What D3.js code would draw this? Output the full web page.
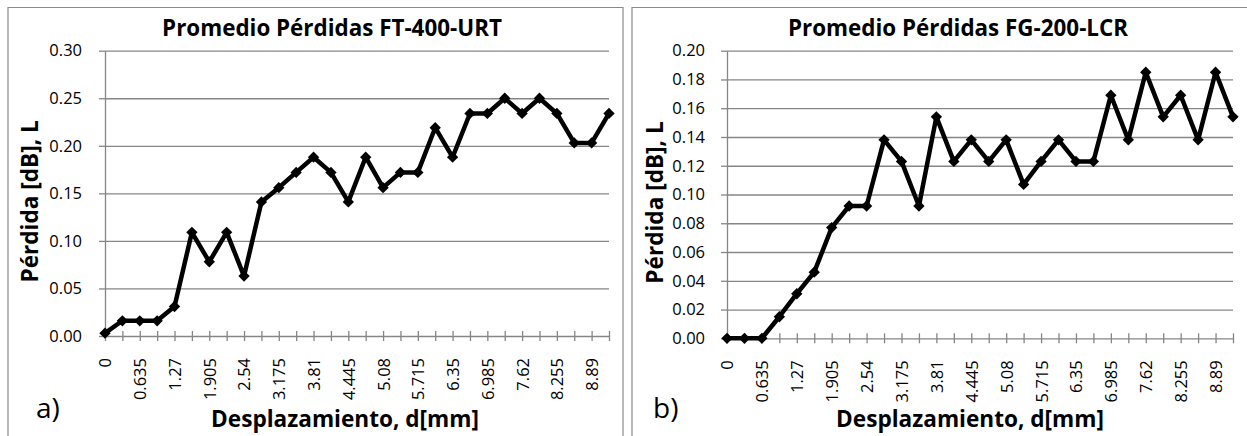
<!DOCTYPE html>
<html>
<head>
<meta charset="utf-8">
<script src="https://cdn.jsdelivr.net/npm/d3@7"></script>
<style>
	body { margin: 0; background: #fff; }
	text { font-family: "Open Sans", sans-serif; fill: #000; }
</style>
</head>
<body>
<script>
// displacement d [mm], one category per step of 0.3175
var displacement = [0, 0.3175, 0.635, 0.9525, 1.27, 1.5875, 1.905, 2.2225, 2.54, 2.8575,
	3.175, 3.4925, 3.81, 4.1275, 4.445, 4.7625, 5.08, 5.3975, 5.715, 6.0325,
	6.35, 6.6675, 6.985, 7.3025, 7.62, 7.9375, 8.255, 8.5725, 8.89, 9.2075];

// average loss [dB]
var lossFT400 = [0.003, 0.016, 0.016, 0.016, 0.031, 0.109, 0.078, 0.109, 0.063, 0.141,
	0.156, 0.172, 0.188, 0.172, 0.141, 0.188, 0.156, 0.172, 0.172, 0.219,
	0.188, 0.234, 0.234, 0.250, 0.234, 0.250, 0.234, 0.203, 0.203, 0.234];
var lossFG200 = [0, 0, 0, 0.015, 0.031, 0.046, 0.077, 0.092, 0.092, 0.138,
	0.123, 0.092, 0.154, 0.123, 0.138, 0.123, 0.138, 0.107, 0.123, 0.138,
	0.123, 0.123, 0.169, 0.138, 0.185, 0.154, 0.169, 0.138, 0.185, 0.154];

var ticksFT400 = [0, 0.05, 0.10, 0.15, 0.20, 0.25, 0.30];
var ticksFG200 = [0, 0.02, 0.04, 0.06, 0.08, 0.10, 0.12, 0.14, 0.16, 0.18, 0.20];

var gridColor = "#868686";

var svg = d3.select("body").append("svg")
	.attr("width", 1247)
	.attr("height", 436);

var drawPanel = function(panel) {
	var g = svg.append("g");

	// frame of the panel (open at the bottom, cut by the page)
	g.append("path")
		.attr("d", panel.frame)
		.attr("fill", "none")
		.attr("stroke", "#8a8a8a")
		.attr("stroke-width", 1.2);

	var x = d3.scalePoint()
		.domain(displacement)
		.range([panel.left, panel.right]);
	var y = d3.scaleLinear()
		.domain([0, panel.ticks[panel.ticks.length - 1]])
		.range([panel.bottom, panel.top]);

	// horizontal gridlines
	g.append("g")
		.attr("transform", "translate(" + panel.left + ",0)")
		.call(d3.axisLeft(y).tickValues(panel.ticks.slice(1)).tickSize(-(panel.right - panel.left)).tickFormat(""))
		.call(function(s) {
			s.select(".domain").remove();
			s.selectAll("line").attr("stroke", gridColor).attr("stroke-width", 1.3);
		});

	// y axis with labels
	g.append("g")
		.attr("transform", "translate(" + panel.left + ",0)")
		.call(d3.axisLeft(y).tickValues(panel.ticks).tickSizeInner(6).tickSizeOuter(0).tickPadding(panel.yPad).tickFormat(d3.format(".2f")))
		.call(function(s) {
			s.select(".domain").attr("stroke", gridColor).attr("stroke-width", 1.3);
			s.selectAll("line").attr("stroke", gridColor).attr("stroke-width", 1.3);
			s.selectAll("text").attr("font-size", 16.5).attr("font-family", "Open Sans").attr("fill", "#000");
		});

	// x axis, crossing tick marks, every other label shown
	g.append("g")
		.attr("transform", "translate(0," + panel.bottom + ")")
		.call(d3.axisBottom(x).tickSizeInner(5).tickSizeOuter(0).tickFormat(function(d, i) { return i % 2 == 0 ? d : ""; }))
		.call(function(s) {
			s.select(".domain").attr("stroke", gridColor).attr("stroke-width", 1.3);
			s.selectAll("line").attr("y1", -5).attr("stroke", gridColor).attr("stroke-width", 1.3);
			s.selectAll("text")
				.attr("font-size", 16.5)
				.attr("font-family", "Open Sans")
				.attr("fill", "#000")
				.attr("text-anchor", "end")
				.attr("transform", "rotate(-90)")
				.attr("x", -22)
				.attr("y", 0)
				.attr("dy", "0.36em");
		});

	var line = d3.line()
		.x(function(d, i) { return x(displacement[i]); })
		.y(function(d) { return y(d); });

	g.append("path")
		.datum(panel.values)
		.attr("d", line)
		.attr("fill", "none")
		.attr("stroke", "#000")
		.attr("stroke-width", 4.5)
		.attr("stroke-linejoin", "round");

	g.selectAll(".marker")
		.data(panel.values)
		.enter().append("path")
		.attr("class", "marker")
		.attr("d", d3.symbol(d3.symbolSquare, 64))
		.attr("fill", "#000")
		.attr("transform", function(d, i) { return "translate(" + x(displacement[i]) + "," + y(d) + ") rotate(45)"; });

	// titles
	g.append("text")
		.attr("x", panel.titleX)
		.attr("y", 36)
		.attr("text-anchor", "middle")
		.attr("font-weight", "bold")
		.attr("font-size", 22.4)
		.text(panel.title);

	g.append("text")
		.attr("transform", "translate(" + panel.yTitleX + "," + ((panel.top + panel.bottom) / 2 + 8) + ") rotate(-90)")
		.attr("text-anchor", "middle")
		.attr("font-weight", "bold")
		.attr("font-size", 22.6)
		.text("Pérdida [dB], L");

	g.append("text")
		.attr("x", panel.xTitleX)
		.attr("y", 427)
		.attr("text-anchor", "middle")
		.attr("font-weight", "bold")
		.attr("font-size", 22.6)
		.text("Desplazamiento, d[mm]");

	g.append("text")
		.attr("x", panel.letterX)
		.attr("y", 418)
		.attr("font-family", "Liberation Serif")
		.attr("font-size", 28)
		.text(panel.letter);
};

drawPanel({
	frame: "M8,436V7.5H623V436",
	left: 105, right: 609, top: 50.7, bottom: 336,
	ticks: ticksFT400, values: lossFT400, yPad: 17,
	title: "Promedio Pérdidas FT-400-URT", titleX: 332,
	yTitleX: 38, xTitleX: 345, letter: "a)", letterX: 36
});

drawPanel({
	frame: "M632,436V7.5H1250",
	left: 727, right: 1233, top: 50.7, bottom: 338.3,
	ticks: ticksFG200, values: lossFG200, yPad: 16,
	title: "Promedio Pérdidas FG-200-LCR", titleX: 958,
	yTitleX: 663, xTitleX: 970, letter: "b)", letterX: 653
});
</script>
</body>
</html>
